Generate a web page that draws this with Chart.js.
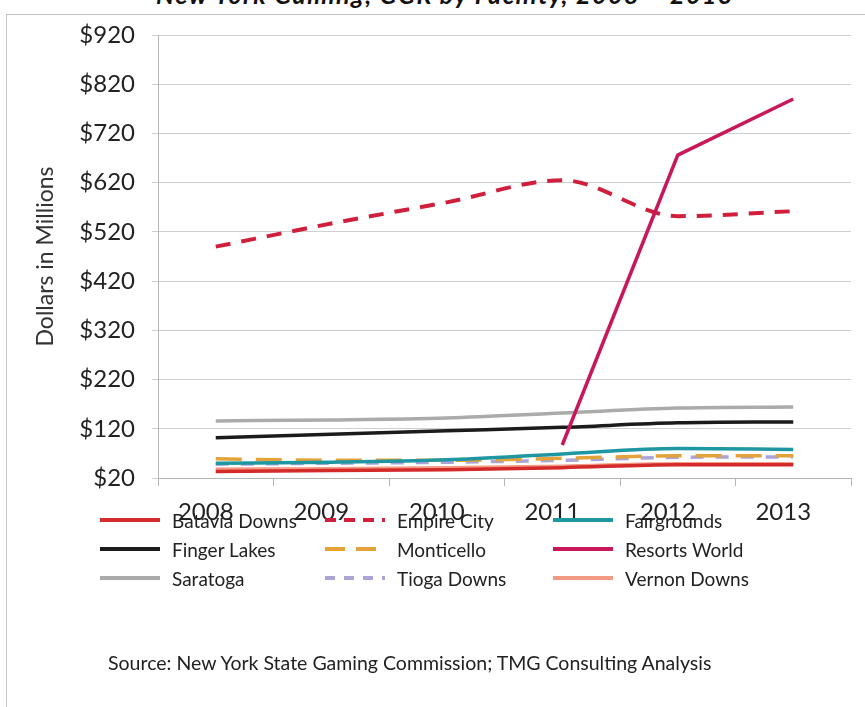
<!DOCTYPE html>
<html>
<head>
<meta charset="utf-8">
<script src="https://cdn.jsdelivr.net/npm/chart.js@4.4.1/dist/chart.umd.min.js"></script>
<style>
  html, body { margin: 0; padding: 0; background: #fff; }
  body { width: 865px; height: 707px; position: relative; overflow: hidden; font-family: Lato, "Open Sans", sans-serif; color: #222; }
  #frame { position: absolute; left: 6px; top: 14px; width: 900px; height: 720px; border-left: 1px solid #c4c4c4; border-top: 1px solid #c4c4c4; }
  #title { position: absolute; left: 0; width: 890px; top: -21px; text-align: center; font-weight: bold; font-style: italic; font-size: 25px; letter-spacing: 1.5px; color: #111; white-space: nowrap; }
  #wrap { position: absolute; left: 0; top: 0; width: 865px; height: 707px; }
  #legend { position: absolute; left: 0; top: 0; }
  .item { position: absolute; display: flex; align-items: center; font-size: 19px; color: #222; white-space: nowrap; }
  .item svg { margin-right: 12px; }
  #source { position: absolute; left: 108px; top: 651px; font-size: 19.5px; color: #222; white-space: nowrap; }
</style>
</head>
<body>
<div id="frame"></div>
<div id="title">New York Gaming, GGR by Facility, 2008 – 2013</div>
<div id="wrap"><canvas id="chart" width="865" height="707"></canvas></div>
<div id="legend"></div>
<div id="source">Source: New York State Gaming Commission; TMG Consulting Analysis</div>
<script>
// Gross gaming revenue by facility, $ millions
const years = ['2008', '2009', '2010', '2011', '2012', '2013'];
const bataviaDowns = [33, 35, 37, 41, 47, 47];
const empireCity   = [490, 537, 580, 625, 552, 562];
const fairgrounds  = [50, 52, 57, 69, 80, 78];
const fingerLakes  = [102, 109, 116, 123, 132, 134];
const monticello   = [59, 56, 56, 60, 65, 65];
const resortsWorld = [null, null, null, 87, 676, 790];
const saratoga     = [136, 138, 142, 152, 162, 164];
const tiogaDowns   = [48, 50, 52, 56, 62, 63];
const vernonDowns  = [38, 39, 41, 44, 49, 49];

const yMin = 20, yMax = 920, yStep = 100;

const series = [
  { label: 'Batavia Downs', data: bataviaDowns, color: '#d42a2a', dash: [],       width: 3.5, col: 0, row: 0 },
  { label: 'Empire City',   data: empireCity,   color: '#d01f3c', dash: [15, 11], width: 4,   col: 1, row: 0 },
  { label: 'Fairgrounds',   data: fairgrounds,  color: '#1f97a3', dash: [],       width: 3.5, col: 2, row: 0 },
  { label: 'Finger Lakes',  data: fingerLakes,  color: '#1b1b1e', dash: [],       width: 3.5, col: 0, row: 1 },
  { label: 'Monticello',    data: monticello,   color: '#e3a23a', dash: [26, 14], width: 3.5, col: 1, row: 1 },
  { label: 'Resorts World', data: resortsWorld, color: '#c8175a', dash: [],       width: 3.5, col: 2, row: 1, straight: true },
  { label: 'Saratoga',      data: saratoga,     color: '#ababab', dash: [],       width: 3.5, col: 0, row: 2 },
  { label: 'Tioga Downs',   data: tiogaDowns,   color: '#aaa5d6', dash: [13, 12], width: 3.5, col: 1, row: 2 },
  { label: 'Vernon Downs',  data: vernonDowns,  color: '#f29a83', dash: [],       width: 3.5, col: 2, row: 2 }
];

// Draw order: low lines first so the key lines sit on top
const drawOrder = ['Vernon Downs', 'Batavia Downs', 'Tioga Downs', 'Monticello', 'Fairgrounds',
                   'Finger Lakes', 'Saratoga', 'Empire City', 'Resorts World'];

const datasets = series.map(s => ({
  label: s.label,
  data: s.data,
  borderColor: s.color,
  backgroundColor: s.color,
  borderWidth: s.width,
  borderDash: s.dash,
  borderCapStyle: 'butt',
  pointRadius: 0,
  tension: s.straight ? 0 : 0.4,
  cubicInterpolationMode: s.straight ? 'default' : 'monotone',
  spanGaps: false,
  order: drawOrder.length - drawOrder.indexOf(s.label)
}));

const tickFont = { family: 'Lato', size: 24 };

new Chart(document.getElementById('chart'), {
  type: 'line',
  data: { labels: years, datasets },
  options: {
    responsive: false,
    animation: false,
    layout: { padding: { top: 35, right: 14, left: 0, bottom: 0 } },
    plugins: { legend: { display: false }, tooltip: { enabled: false }, title: { display: false } },
    scales: {
      x: {
        offset: true,
        grid: { display: true, offset: true, drawOnChartArea: false, tickLength: 8, color: '#b4b4b4' },
        border: { color: '#b4b4b4', width: 1 },
        ticks: { font: tickFont, color: '#222', labelOffset: -10, padding: 12, maxRotation: 0 },
        afterFit: s => { s.height = 707 - 478; }
      },
      y: {
        min: yMin, max: yMax,
        grid: { color: '#cfcfcf', tickLength: 6 },
        border: { color: '#b4b4b4', width: 1 },
        ticks: { stepSize: yStep, font: tickFont, color: '#222', padding: 17, callback: v => '$' + v },
        title: { display: true, text: 'Dollars in Millions', font: { family: 'Lato', size: 23 }, color: '#333', padding: { top: 32, bottom: 0 } },
        afterFit: s => { s.width = 158; }
      }
    }
  }
});

// Three-column legend below the axis
const legend = document.getElementById('legend');
const colX = [100, 325, 553];
const rowY = [520, 549, 578];
series.forEach(s => {
  const el = document.createElement('div');
  el.className = 'item';
  el.style.left = colX[s.col] + 'px';
  el.style.top = (rowY[s.row] - 12) + 'px';
  const dashAttr = s.dash.length ? ` stroke-dasharray="${s.dash.map(d => Math.round(d * 0.75)).join(' ')}"` : '';
  el.innerHTML = `<svg width="60" height="24"><line x1="0" y1="12" x2="60" y2="12" stroke="${s.color}" stroke-width="4"${dashAttr}/></svg><span>${s.label}</span>`;
  legend.appendChild(el);
});
</script>
</body>
</html>
